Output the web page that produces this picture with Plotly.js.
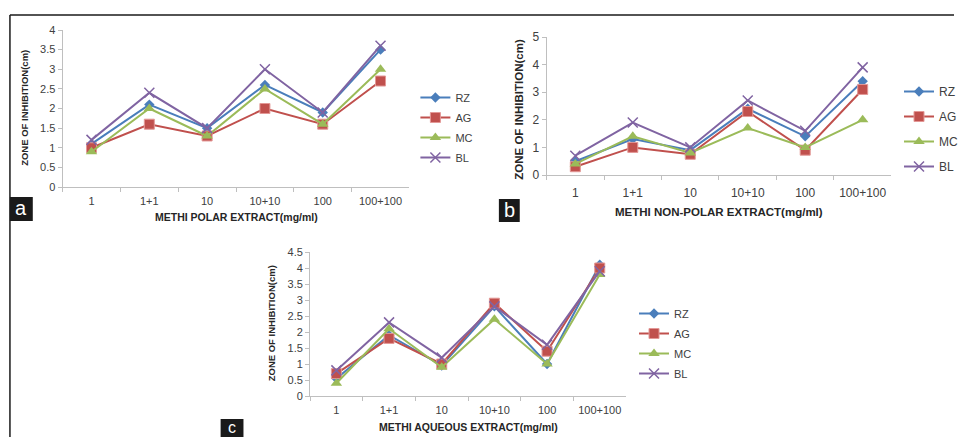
<!DOCTYPE html>
<html>
<head>
<meta charset="utf-8">
<script src="https://cdn.plot.ly/plotly-3.0.1.min.js"></script>
<style>html,body{margin:0;padding:0;background:#fff;}#chart{width:963px;height:437px;}</style>
</head>
<body>
<div id="chart"></div>
<script>
// ---------- data ----------
const categories = ["1", "1+1", "10", "10+10", "100", "100+100"];
const seriesNames = ["RZ", "AG", "MC", "BL"];

// (a) Methi polar extract
const polarRZ = [1.1, 2.1, 1.5, 2.6, 1.9, 3.5];
const polarAG = [1.0, 1.6, 1.3, 2.0, 1.6, 2.7];
const polarMC = [0.9, 2.0, 1.3, 2.5, 1.6, 3.0];
const polarBL = [1.2, 2.4, 1.5, 3.0, 1.9, 3.6];

// (b) Methi non-polar extract
const nonPolarRZ = [0.5, 1.3, 0.9, 2.4, 1.4, 3.4];
const nonPolarAG = [0.3, 1.0, 0.75, 2.3, 0.9, 3.1];
const nonPolarMC = [0.4, 1.4, 0.8, 1.7, 1.0, 2.0];
const nonPolarBL = [0.7, 1.9, 1.0, 2.7, 1.6, 3.9];

// (c) Methi aqueous extract
const aqueousRZ = [0.55, 1.9, 0.95, 2.8, 1.0, 4.1];
const aqueousAG = [0.7, 1.8, 1.0, 2.9, 1.4, 4.0];
const aqueousMC = [0.4, 2.1, 0.9, 2.4, 1.0, 3.8];
const aqueousBL = [0.8, 2.3, 1.2, 2.8, 1.6, 3.9];

const xTitles = ["METHI POLAR EXTRACT(mg/ml)", "METHI NON-POLAR EXTRACT(mg/ml)", "METHI AQUEOUS EXTRACT(mg/ml)"];
const yTitle = "ZONE OF INHIBITION(cm)";
const panelLabels = ["a", "b", "c"];

// ---------- styling ----------
const W = 963, H = 437;
const px = v => v / W;
const py = v => 1 - v / H;
const FONT = "Liberation Sans, Arial, sans-serif";

const styles = {
  RZ: {color: "#4a7ebb", marker: {symbol: "diamond", size: 8, color: "#4a7ebb"}},
  AG: {color: "#c0504d", marker: {symbol: "square", size: 10, color: "#c0504d", line: {color: "#e39896", width: 1}}},
  MC: {color: "#9bbb59", marker: {symbol: "triangle-up", size: 10, color: "#9bbb59"}},
  BL: {color: "#8064a2", marker: {symbol: "x-thin-open", size: 10, color: "#8064a2", line: {color: "#8064a2", width: 1.5}}}
};

const panels = [
  {sets: [polarRZ, polarAG, polarMC, polarBL], xa: "x", ya: "y", legend: "legend"},
  {sets: [nonPolarRZ, nonPolarAG, nonPolarMC, nonPolarBL], xa: "x2", ya: "y2", legend: "legend2"},
  {sets: [aqueousRZ, aqueousAG, aqueousMC, aqueousBL], xa: "x3", ya: "y3", legend: "legend3"}
];

const traces = [];
panels.forEach((p, pi) => {
  p.sets.forEach((vals, si) => {
    const name = seriesNames[si];
    const st = styles[name];
    traces.push({
      type: "scatter", mode: "lines+markers",
      x: categories, y: vals, name: name,
      xaxis: p.xa, yaxis: p.ya, legend: p.legend,
      legendgroup: "p" + pi + name,
      line: {color: st.color, width: 2},
      marker: st.marker,
      hoverinfo: "x+y+name"
    });
  });
});

function xAxis(l, r, fs, so) {
  return {
    domain: [px(l), px(r)], type: "category", range: [-0.5, 5.5],
    showline: true, linecolor: "#bfbfbf", linewidth: 1,
    ticks: "outside", tickson: "boundaries", ticklen: 4, tickcolor: "#bfbfbf",
    ticklabelstandoff: so,
    showgrid: false, zeroline: false, fixedrange: true,
    tickfont: {family: FONT, size: fs, color: "#404040"}
  };
}
function yAxis(bottom, top, max, dt, fs, anchor) {
  return {
    domain: [py(bottom), py(top)], range: [0, max], dtick: dt, tick0: 0,
    showline: true, linecolor: "#bfbfbf", linewidth: 1,
    ticks: "outside", ticklen: 4, tickcolor: "#bfbfbf",
    showgrid: false, zeroline: false, fixedrange: true, anchor: anchor,
    tickfont: {family: FONT, size: fs, color: "#404040"}
  };
}
function legendAt(x, y, fs, gap) {
  return {
    x: px(x), y: py(y), xanchor: "left", yanchor: "top",
    bgcolor: "rgba(0,0,0,0)", borderwidth: 0,
    font: {family: FONT, size: fs, color: "#404040"},
    tracegroupgap: gap, itemwidth: 30
  };
}

const titleFont = s => ({family: FONT, size: s, color: "#262626", weight: "bold"});

const annotations = [
  {text: "<b>" + xTitles[0] + "</b>", x: px(238), y: py(217), font: titleFont(10.5)},
  {text: "<b>" + yTitle + "</b>", x: px(25), y: py(108), textangle: -90, font: titleFont(9.5)},
  {text: "<b>" + xTitles[1] + "</b>", x: px(724), y: py(212), font: titleFont(11.5)},
  {text: "<b>" + yTitle + "</b>", x: px(522), y: py(109), textangle: -90, font: titleFont(11.5)},
  {text: "<b>" + xTitles[2] + "</b>", x: px(471), y: py(427), font: titleFont(10.5)},
  {text: "<b>" + yTitle + "</b>", x: px(273), y: py(323), textangle: -90, font: titleFont(9.5)}
].map(a => Object.assign({xref: "paper", yref: "paper", showarrow: false, xanchor: "center", yanchor: "middle"}, a));

// panel letter boxes
const boxes = [[10, 197, 33, 221], [502, 199, 523, 222], [222, 419, 245, 437]];
const letterY = [208, 210, 427];
const shapes = [
  {type: "line", xref: "paper", yref: "paper", x0: px(10), y0: py(15), x1: px(960), y1: py(15), line: {color: "#1a1a1a", width: 1.5}},
  {type: "line", xref: "paper", yref: "paper", x0: px(10), y0: py(15), x1: px(10), y1: py(437), line: {color: "#1a1a1a", width: 1.5}}
];
boxes.forEach((b, i) => {
  shapes.push({type: "rect", xref: "paper", yref: "paper", x0: px(b[0]), y0: py(b[1]), x1: px(b[2]), y1: py(b[3]),
    fillcolor: "#1a1a1a", line: {width: 0}});
  annotations.push({xref: "paper", yref: "paper", showarrow: false, text: panelLabels[i],
    x: px((b[0] + b[2]) / 2), y: py(letterY[i]), xanchor: "center", yanchor: "middle",
    font: {family: FONT, size: i === 2 ? 16 : 20, color: "#ffffff"}});
});

const layout = {
  width: W, height: H,
  margin: {l: 0, r: 0, t: 0, b: 0},
  paper_bgcolor: "#ffffff", plot_bgcolor: "rgba(0,0,0,0)",
  showlegend: true,
  xaxis: xAxis(63, 412, 11, 4), yaxis: yAxis(187, 30, 4, 0.5, 11, "x"),
  xaxis2: xAxis(550, 897, 12, 7), yaxis2: yAxis(175, 37, 5, 1, 12, "x2"),
  xaxis3: xAxis(312, 630, 11, 4), yaxis3: yAxis(396, 252, 4.5, 0.5, 11, "x3"),
  legend: legendAt(418, 83, 11, 1),
  legend2: legendAt(905, 77, 12, 6),
  legend3: legendAt(638, 299, 11, 1),
  annotations: annotations,
  shapes: shapes
};
layout.xaxis.anchor = "y"; layout.xaxis2.anchor = "y2"; layout.xaxis3.anchor = "y3";

Plotly.newPlot("chart", traces, layout, {displayModeBar: false, staticPlot: true});
</script>
</body>
</html>
